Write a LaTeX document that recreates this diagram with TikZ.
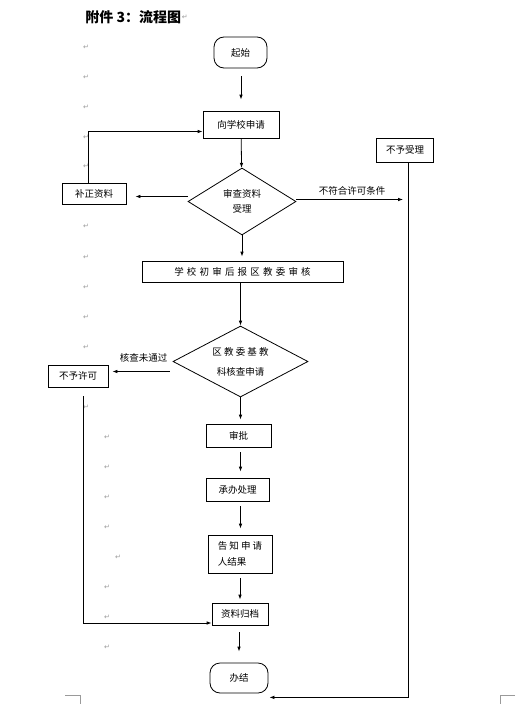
\documentclass[tikz,border=0pt]{standalone}
\usepackage{fontspec}
\setmainfont{Noto Sans CJK SC}
\newfontfamily\symfont{DejaVu Sans}
\usetikzlibrary{arrows.meta,shapes.geometric}
\definecolor{markgray}{HTML}{9A9A9A}
\newcommand{\ls}{\hspace{3.2pt}}

\begin{document}
\begin{tikzpicture}[x=1pt,y=-1pt,>={Latex[length=5pt,width=3.6pt]},line width=0.8pt,
  box/.style={draw,rectangle,inner sep=0pt,font=\fontsize{9.5}{13}\selectfont},
  term/.style={box,rounded corners=10pt},
  dec/.style={draw,diamond,inner sep=0pt,align=center,font=\fontsize{9.5}{15}\selectfont},
  lbl/.style={inner sep=1pt,font=\fontsize{9.5}{12}\selectfont},
  pmark/.style={inner sep=0pt,text=markgray,font=\symfont\fontsize{7}{8}\selectfont}]
  \useasboundingbox[fill=white] (0,0) rectangle (517,704);

  % Titel
  \node[anchor=west,inner sep=0pt,font=\bfseries\fontsize{14}{16}\selectfont] (titel) at (85,17) {附件 3：流程图};
  \node[pmark,anchor=west] (tmark) at (titel.east) {↵};

  % Absatzmarken links
  \foreach \y [count=\i] in {47,77,107,137,166,226,257,287,317,347,407} {
    \node[pmark] (pa\i) at (86,\y) {↵};
  }
  \foreach \x/\y [count=\i] in {107/437,107/467,107/497,107/527,118/557,107/587,107/617,107/647} {
    \node[pmark] (pb\i) at (\x,\y) {↵};
  }

  % Kästen
  \node[term,minimum width=53pt,minimum height=31pt] (qs) at (240.5,52.5) {起始};
  \node[box,minimum width=76pt,minimum height=27pt] (sq) at (241,124.5) {向学校申请};
  \node[dec,minimum width=108pt,minimum height=67pt,aspect=1.6] (d1) at (242,201.5) {审查资料\\受理};
  \node[box,minimum width=64pt,minimum height=21pt] (bz) at (94,193.5) {补正资料};
  \node[box,minimum width=57pt,minimum height=24pt] (bsl) at (405,150) {不予受理};
  \node[box,minimum width=201pt,minimum height=21pt] (cs) at (242.5,271.5)
    {学\ls 校\ls 初\ls 审\ls 后\ls 报\ls 区\ls 教\ls 委\ls 审\ls 核};
  \node[dec,minimum width=135pt,minimum height=71pt,aspect=1.9,font=\fontsize{9.5}{20}\selectfont] (d2) at (240.5,361.5)
    {区 教 委 基 教\\科核查申请};
  \node[box,minimum width=60pt,minimum height=22pt] (bx) at (78,376) {不予许可};
  \node[box,minimum width=65pt,minimum height=23pt] (sp) at (238.5,435.5) {审批};
  \node[box,minimum width=63pt,minimum height=23pt] (cb) at (237.5,489.5) {承办处理};
  \node[box,minimum width=64pt,minimum height=38pt,align=left,font=\fontsize{9.5}{16}\selectfont] (gz) at (240,554)
    {告 知 申 请\\人结果};
  \node[box,minimum width=56pt,minimum height=22pt] (zl) at (240,614) {资料归档};
  \node[term,minimum width=58pt,minimum height=30pt] (bj) at (239,678) {办结};

  \coordinate (rline) at ([xshift=3pt]bsl.south);
  \coordinate (bjin) at ([xshift=1pt,yshift=-4pt]bj.south east);

  % Hauptpfad
  \draw[->,shorten <=8pt,shorten >=11pt] (qs.south -| sq.north) -- (sq.north);
  \draw[->] (sq) -- (d1);
  \draw[->,shorten >=4pt] (d1.south) -- (d1.south |- cs.north);
  \draw[->] (cs.south -| d2.north) -- (d2.north);
  \draw[->,shorten >=4pt] (d2.south) -- (d2.south |- sp.north);
  \draw[->,shorten <=5pt,shorten >=6pt] (sp.south -| d2.south) -- (cb.north -| d2.south);
  \draw[->,shorten <=5pt,shorten >=6pt] (cb.south -| d2.south) -- (gz.north -| d2.south);
  \draw[->,shorten <=5pt,shorten >=3pt] (gz.south -| zl.north) -- (zl.north);
  \draw[->,shorten <=7pt,shorten >=11pt] (zl.south -| bj.north) -- (bj.north);

  % Nebenwege
  \draw[->,shorten >=9pt] ([yshift=5pt]d1.west) -- ([yshift=5pt]d1.west -| bz.east);
  \draw[->] ([xshift=-6pt]bz.north) |- ([yshift=-7pt]sq.west);
  \draw[->,shorten >=5pt] ([yshift=2pt]d1.east) -- ([yshift=2pt]d1.east -| rline)
    node[lbl,midway,above=3pt] (lb1) {不符合许可条件};
  \draw[->] (rline) |- (bjin);
  \draw[->,shorten <=3pt,shorten >=4pt] ([yshift=-10pt]d2.west) -- ([yshift=-10pt]d2.west -| bx.east)
    node[lbl,midway,above=8pt,xshift=3pt] (lb2) {核查未通过};
  \draw[->,shorten <=9pt] ([xshift=5pt]bx.south) |- ([yshift=-9pt]zl.west);

  % Seitenecken
  \draw[markgray,line width=0.6pt] (65,695) -- (80,695) -- (80,704);
  \draw[markgray,line width=0.6pt] (515,695) -- (500,695) -- (500,704);
\end{tikzpicture}
\end{document}
